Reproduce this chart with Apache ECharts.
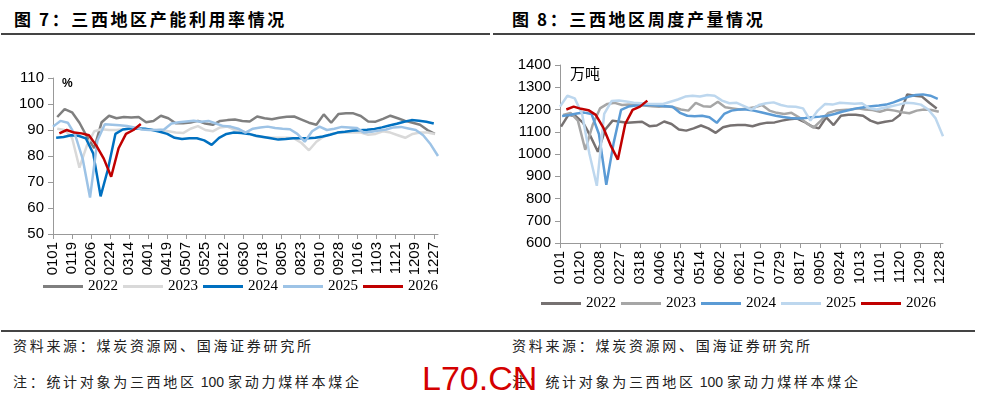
<!DOCTYPE html>
<html>
<head>
<meta charset="utf-8">
<script src="https://cdn.jsdelivr.net/npm/echarts@6/dist/echarts.min.js"></script>
<style>
  body { margin: 0; width: 982px; height: 396px; background: #fff; position: relative; overflow: hidden; font-family: "Noto Sans CJK SC", sans-serif; }
  .title { position: absolute; top: 6px; font-size: 17px; font-weight: bold; letter-spacing: 2.6px; word-spacing: -1px; color: #000; white-space: nowrap; }
  .rule { position: absolute; height: 1.5px; background: #444; }
  .note { position: absolute; font-size: 14px; letter-spacing: 2.7px; color: #222; white-space: nowrap; }
  .note b { font-weight: normal; letter-spacing: 0; font-family: "Liberation Sans", sans-serif; margin: 0 4px; }
  .wm { position: absolute; left: 422px; top: 359px; font: 34px "Liberation Sans", sans-serif; color: #d40000; }
  #chart { position: absolute; left: 0; top: 0; width: 982px; height: 330px; }
</style>
</head>
<body>
<div class="title" style="left:14px">图 7：三西地区产能利用率情况</div>
<div class="title" style="left:512px">图 8：三西地区周度产量情况</div>
<div class="rule" style="left:1px;top:33px;width:489px"></div>
<div class="rule" style="left:493px;top:33px;width:482px"></div>
<div id="chart"></div>
<div class="rule" style="left:1px;top:330px;width:974px"></div>
<div class="note" style="left:13px;top:335px">资料来源：煤炭资源网、国海证券研究所</div>
<div class="note" style="left:512px;top:335px">资料来源：煤炭资源网、国海证券研究所</div>
<div class="note" style="left:13px;top:371px">注：统计对象为三西地区<b>100</b>家动力煤样本煤企</div>
<div class="note" style="left:512px;top:371px">注：统计对象为三西地区<b>100</b>家动力煤样本煤企</div>
<div class="wm">L70.CN</div>
<script>
// day labels MMDD for a 365-day year (category axis, one slot per day)
const monthLen = [31, 28, 31, 30, 31, 30, 31, 31, 30, 31, 30, 31]
const days = []
monthLen.forEach((n, m) => {
  for (let d = 1; d <= n; d++) days.push(String(m + 1).padStart(2, '0') + String(d).padStart(2, '0'))
})

const years = ['2022', '2023', '2024', '2025', '2026']

// 图7 产能利用率 (%), weekly readings; start = day index of first reading
const util2022 = [95, 98, 96.8, 92.8, 87.5, 83, 93, 95.5, 94.5, 95, 94.8, 95, 93, 93.5, 95.5, 94.5, 92.6, 92.6, 92.9, 93.5, 92.5, 92, 93.5, 93.8, 94, 93.5, 93.3, 95.2, 94.5, 94.1, 94.7, 95.1, 95.2, 94, 92.8, 92, 96, 92.8, 96.2, 96.4, 96.4, 95.4, 93.3, 93.2, 94.3, 95.5, 94.5, 93.5, 92.8, 92, 90, 88.5]
const util2023 = [90.5, 90, 87, 75.5, 84, 89.5, 90.3, 90, 90, 90.3, 90.5, 90.5, 90.3, 90, 90, 89.5, 89, 88.8, 90.5, 91.5, 90, 89.5, 91, 91.3, 90, 89.5, 88.5, 87.5, 87.2, 87, 87, 87, 86.8, 85, 82.2, 85.5, 87.5, 88.5, 89, 89, 89, 89, 88.2, 88.5, 89.5, 89, 88, 87, 88.5, 89, 89, 88.5]
const util2024 = [87, 87.3, 88, 87.8, 86.8, 81, 64.5, 75, 88.5, 90.2, 90.6, 90.6, 90.5, 90, 89.3, 88.5, 87, 86.5, 86.8, 86.8, 86, 84.3, 87, 88.5, 89, 88.8, 88.5, 87.8, 87.3, 86.8, 86.3, 86.5, 86.8, 86.8, 86.8, 87, 87.5, 88.2, 89, 89.3, 89.7, 89.9, 90.1, 90.4, 91, 91.7, 92.4, 93.2, 93.8, 93.6, 93.2, 92.5]
const util2025 = [91.3, 93.5, 92.8, 88, 79, 64, 86, 92.2, 92, 91.8, 91.5, 91, 90.2, 90, 90, 90.2, 92.5, 93, 93.3, 93.6, 93.2, 93.5, 92.5, 91.5, 91.3, 90.5, 89, 90.5, 91, 91.3, 90.8, 90.5, 90.3, 88.5, 85.5, 89.5, 91.3, 90, 90.5, 91.2, 91, 90.8, 89, 89.3, 89.8, 90.2, 91, 91.2, 90.6, 90, 88, 84.5, 80]
const util2026 = [88.7, 90, 89, 88.7, 88, 84, 79, 72, 83, 88.5, 90, 92.3]
const utilStart = [4, 4, 3, 0, 6]

// 图8 周度产量 (万吨)
const prod2022 = [1123, 1176, 1170, 1140, 1080, 1010, 1110, 1150, 1145, 1140, 1143, 1145, 1125, 1128, 1146, 1135, 1110, 1105, 1115, 1128, 1115, 1095, 1120, 1128, 1130, 1130, 1125, 1135, 1141, 1142, 1150, 1156, 1160, 1145, 1125, 1115, 1165, 1130, 1172, 1176, 1176, 1172, 1150, 1138, 1145, 1150, 1175, 1268, 1262, 1258, 1230, 1205]
const prod2023 = [1176, 1185, 1150, 1019, 1130, 1205, 1225, 1230, 1220, 1222, 1220, 1218, 1215, 1212, 1215, 1210, 1200, 1195, 1230, 1215, 1212, 1235, 1210, 1205, 1200, 1205, 1210, 1220, 1195, 1185, 1180, 1185, 1165, 1140, 1118, 1150, 1185, 1195, 1198, 1200, 1205, 1200, 1198, 1190, 1200, 1195, 1188, 1183, 1195, 1200, 1198, 1190]
const prod2024 = [1171, 1175, 1182, 1186, 1180, 1090, 862, 1050, 1198, 1213, 1218, 1220, 1220, 1218, 1215, 1212, 1185, 1172, 1170, 1172, 1165, 1140, 1180, 1195, 1200, 1200, 1195, 1188, 1180, 1172, 1166, 1162, 1160, 1162, 1165, 1168, 1172, 1180, 1190, 1198, 1205, 1210, 1215, 1218, 1222, 1232, 1245, 1257, 1265, 1268, 1262, 1248]
const prod2025 = [1213, 1262, 1250, 1180, 1000, 857, 1180, 1238, 1240, 1236, 1230, 1228, 1226, 1225, 1225, 1235, 1245, 1258, 1262, 1258, 1265, 1262, 1240, 1228, 1230, 1215, 1200, 1220, 1228, 1232, 1220, 1213, 1212, 1205, 1150, 1195, 1225, 1222, 1230, 1228, 1226, 1228, 1205, 1200, 1208, 1215, 1222, 1230, 1228, 1222, 1200, 1160, 1080]
const prod2026 = [1200, 1213, 1203, 1197, 1176, 1120, 1040, 975, 1135, 1198, 1213, 1240]
const prodStart = [1, 3, 2, 0, 6]

const utilTicks = [50, 110, 10]
const prodTicks = [600, 1400, 100]

const leftColors = ['#7f7f7f', '#d9d9d9', '#0070c0', '#9dc3e6', '#c00000']
const rightColors = ['#767171', '#a6a6a6', '#5b9bd5', '#bdd7ee', '#c00000']

// weekly readings -> [dayIndex, value]
function toPoints(values, start) {
  return values.map((v, i) => [start + i * 7, v])
}

function lineSeries(prefix, idx, values, start, colors) {
  return {
    name: prefix + years[idx],
    type: 'line',
    xAxisIndex: prefix === 'L' ? 0 : 1,
    yAxisIndex: prefix === 'L' ? 0 : 1,
    data: toPoints(values, start),
    symbol: 'none',
    lineStyle: { width: 2.5, color: colors[idx] },
    itemStyle: { color: colors[idx] },
    z: 2 + idx,
  }
}

const labelFont = { fontFamily: 'Liberation Sans', fontSize: 15, color: '#000' }

function xAxis(grid, interval) {
  return {
    type: 'category', gridIndex: grid, data: days, boundaryGap: false,
    axisLine: { lineStyle: { color: '#999' } },
    axisTick: { interval: interval, length: 5, lineStyle: { color: '#999' } },
    axisLabel: { ...labelFont, interval: interval, rotate: 90, margin: 8 },
  }
}

function yAxis(grid, ticks) {
  return {
    type: 'value', gridIndex: grid, min: ticks[0], max: ticks[1], interval: ticks[2],
    axisLine: { show: true, lineStyle: { color: '#999' } },
    axisTick: { show: true, length: 5, lineStyle: { color: '#999' } },
    axisLabel: { ...labelFont, margin: 9, formatter: v => String(v) },
    splitLine: { show: false },
  }
}

function legend(prefix, left, top) {
  return {
    left: left, top: top, padding: 0, itemWidth: 40, itemHeight: 3, itemGap: 5, icon: 'rect',
    data: years.map(y => prefix + y),
    formatter: name => name.slice(1),
    textStyle: { fontFamily: 'Liberation Serif', fontSize: 15, color: '#000' },
  }
}

const chart = echarts.init(document.getElementById('chart'), null, { renderer: 'canvas' })

const utilData = [util2022, util2023, util2024, util2025, util2026]
const prodData = [prod2022, prod2023, prod2024, prod2025, prod2026]

chart.setOption({
  animation: false,
  grid: [
    { left: 53, top: 78, width: 385, height: 156 },
    { left: 560, top: 65, width: 383, height: 178 },
  ],
  xAxis: [xAxis(0, 17), xAxis(1, 18)],
  yAxis: [yAxis(0, utilTicks), yAxis(1, prodTicks)],
  legend: [legend('L', 43, 279), legend('R', 541, 296)],
  graphic: [
    { type: 'text', left: 62, top: 78, style: { text: '%', font: 'bold 12px "Liberation Sans"', fill: '#000' } },
    { type: 'text', left: 570, top: 66, style: { text: '万吨', font: '15px "Noto Sans CJK SC"', fill: '#000' } },
  ],
  series: [
    ...utilData.map((v, i) => lineSeries('L', i, v, utilStart[i], leftColors)),
    ...prodData.map((v, i) => lineSeries('R', i, v, prodStart[i], rightColors)),
  ],
})
</script>
</body>
</html>
